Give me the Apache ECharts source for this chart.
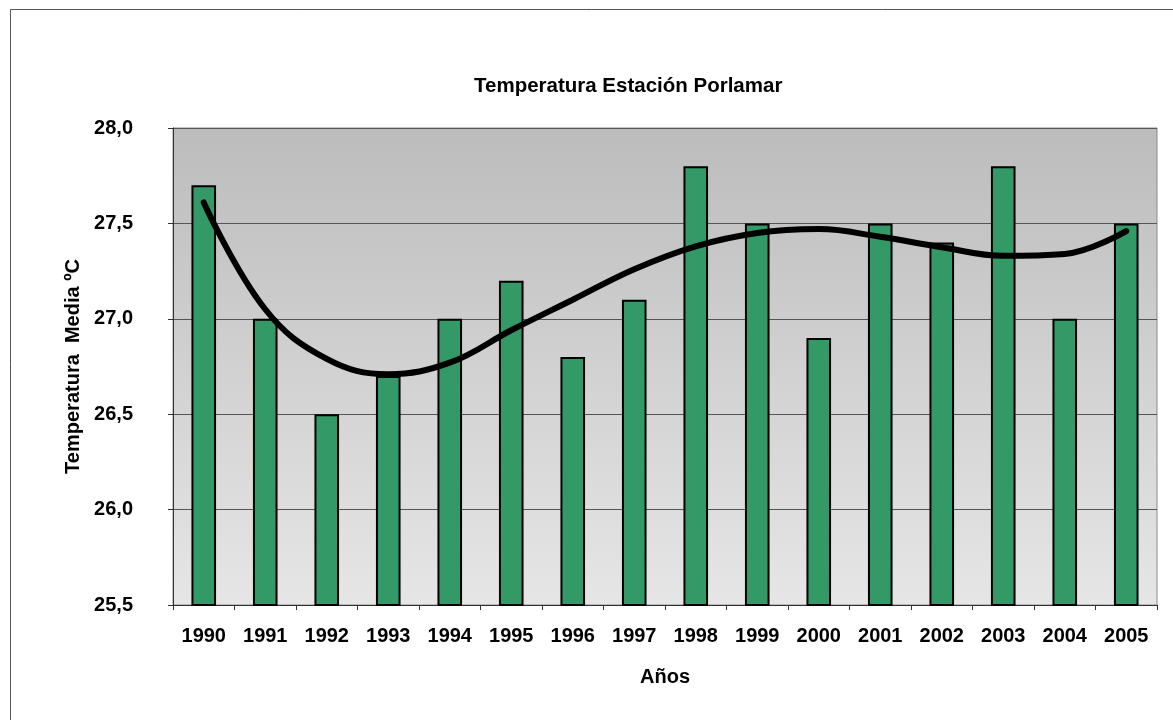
<!DOCTYPE html>
<html>
<head>
<meta charset="utf-8">
<script src="https://cdn.jsdelivr.net/npm/echarts@6/dist/echarts.min.js"></script>
<style>
html,body{margin:0;padding:0;background:#fff;}
#chart{width:1173px;height:720px;}
</style>
</head>
<body>
<div id="chart"></div>
<script>
const years = ['1990','1991','1992','1993','1994','1995','1996','1997','1998','1999','2000','2001','2002','2003','2004','2005'];
const tempMedia = [27.7, 27.0, 26.5, 26.7, 27.0, 27.2, 26.8, 27.1, 27.8, 27.5, 26.9, 27.5, 27.4, 27.8, 27.0, 27.5];
const trendValues = [27.61, 27.05, 26.79, 26.71, 26.77, 26.94, 27.10, 27.26, 27.38, 27.45, 27.47, 27.43, 27.375, 27.33, 27.34, 27.46];
const yMin = 25.5, yMax = 28.0, yStep = 0.5;

const FONT = '"Liberation Sans", Arial, sans-serif';
const chart = echarts.init(document.getElementById('chart'), null, {renderer: 'canvas'});
chart.setOption({
  animation: false,
  backgroundColor: '#ffffff',
  title: {
    text: 'Temperatura Estación Porlamar',
    left: 469,
    top: 71,
    textStyle: {fontFamily: FONT, fontWeight: 'bold', fontSize: 20.5, color: '#000'}
  },
  graphic: [{
    type: 'polyline',
    shape: {points: [[10.5, 720], [10.5, 9.5], [1173, 9.5]]},
    style: {stroke: '#555', lineWidth: 1, fill: null},
    silent: true
  }],
  grid: {
    left: 173, top: 128, right: 16, bottom: 115,
    show: true,
    borderColor: '#8a8a8a',
    borderWidth: 1,
    backgroundColor: {
      type: 'linear', x: 0, y: 0, x2: 0, y2: 1,
      colorStops: [{offset: 0, color: '#bcbcbc'}, {offset: 1, color: '#e6e6e6'}]
    }
  },
  xAxis: {
    type: 'category',
    data: years,
    name: 'Años',
    nameLocation: 'middle',
    nameGap: 62,
    nameTextStyle: {fontFamily: FONT, fontWeight: 'bold', fontSize: 20, color: '#000'},
    axisLine: {lineStyle: {color: '#333', width: 1}},
    axisTick: {show: true, length: 5, lineStyle: {color: '#333'}},
    axisLabel: {fontFamily: FONT, fontWeight: 'bold', fontSize: 20, color: '#000', margin: 21, interval: 0}
  },
  yAxis: {
    type: 'value',
    min: yMin, max: yMax, interval: yStep,
    name: 'Temperatura  Media ºC',
    nameLocation: 'middle',
    nameGap: 90,
    nameRotate: 90,
    nameTextStyle: {fontFamily: FONT, fontWeight: 'bold', fontSize: 20, color: '#000'},
    axisLine: {show: true, lineStyle: {color: '#333', width: 1}},
    axisTick: {show: true, length: 5, lineStyle: {color: '#333'}},
    axisLabel: {
      fontFamily: FONT, fontWeight: 'bold', fontSize: 20, color: '#000', margin: 40,
      formatter: v => v.toFixed(1).replace('.', ',')
    },
    splitLine: {show: true, lineStyle: {color: '#555', width: 1}}
  },
  series: [{
    type: 'bar',
    data: tempMedia,
    barWidth: '40%',
    itemStyle: {color: '#339966', borderColor: '#000', borderWidth: 2},
    z: 2
  }, {
    type: 'line',
    data: trendValues,
    smooth: 0.4,
    symbol: 'none',
    lineStyle: {color: '#000', width: 6, cap: 'round', join: 'round'},
    z: 3
  }]
});
</script>
</body>
</html>
